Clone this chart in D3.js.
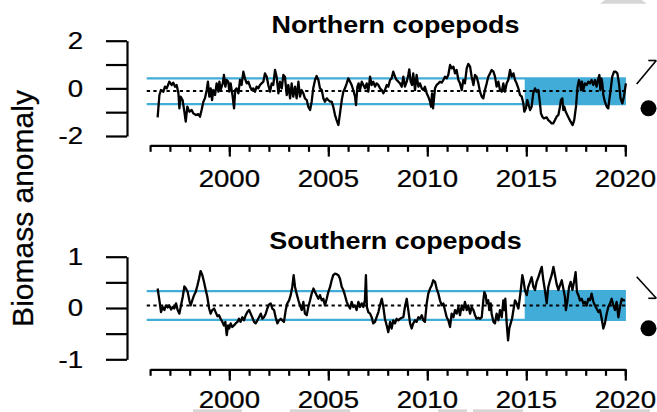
<!DOCTYPE html>
<html><head><meta charset="utf-8">
<script src="https://cdn.jsdelivr.net/npm/d3@7"></script>
<style>html,body{margin:0;padding:0;background:#fff;overflow:hidden}svg{display:block}</style>
</head><body><svg id="c" width="657" height="412"></svg>
<script>
// ---------------- data ----------------
const northYear = [1996.38,1996.47,1996.55,1996.67,1996.75,1996.84,1996.97,1997.09,1997.17,1997.26,1997.34,1997.43,1997.48,1997.54,1997.64,1997.73,1997.80,1997.88,1997.98,1998.10,1998.18,1998.32,1998.44,1998.52,1998.60,1998.69,1998.77,1998.86,1998.92,1998.99,1999.06,1999.13,1999.19,1999.28,1999.36,1999.45,1999.50,1999.56,1999.67,1999.73,1999.80,1999.87,1999.95,2000.00,2000.07,2000.17,2000.24,2000.30,2000.37,2000.46,2000.54,2000.62,2000.71,2000.79,2000.88,2000.96,2001.05,2001.13,2001.21,2001.30,2001.38,2001.47,2001.55,2001.63,2001.72,2001.80,2001.89,2001.97,2002.06,2002.14,2002.22,2002.31,2002.39,2002.48,2002.56,2002.65,2002.73,2002.81,2002.90,2002.98,2003.07,2003.15,2003.23,2003.32,2003.40,2003.49,2003.57,2003.65,2003.74,2003.82,2003.91,2003.99,2004.08,2004.16,2004.24,2004.33,2004.41,2004.50,2004.58,2004.67,2004.75,2004.83,2004.92,2005.00,2005.09,2005.17,2005.25,2005.34,2005.42,2005.51,2005.59,2005.68,2005.76,2005.84,2005.93,2006.01,2006.10,2006.18,2006.26,2006.35,2006.40,2006.47,2006.53,2006.60,2006.69,2006.77,2006.85,2006.94,2007.02,2007.11,2007.19,2007.27,2007.36,2007.44,2007.53,2007.61,2007.70,2007.78,2007.86,2007.95,2008.03,2008.12,2008.20,2008.28,2008.37,2008.45,2008.54,2008.62,2008.71,2008.79,2008.87,2008.96,2009.04,2009.09,2009.16,2009.23,2009.29,2009.38,2009.46,2009.55,2009.63,2009.72,2009.80,2009.88,2009.97,2010.05,2010.14,2010.19,2010.24,2010.29,2010.34,2010.39,2010.47,2010.56,2010.64,2010.73,2010.81,2010.89,2010.98,2011.06,2011.15,2011.23,2011.32,2011.40,2011.48,2011.57,2011.65,2011.74,2011.82,2011.90,2011.99,2012.07,2012.16,2012.24,2012.33,2012.41,2012.49,2012.58,2012.66,2012.75,2012.83,2012.91,2013.00,2013.08,2013.17,2013.25,2013.34,2013.42,2013.50,2013.59,2013.67,2013.76,2013.84,2013.92,2014.01,2014.09,2014.18,2014.26,2014.35,2014.43,2014.51,2014.60,2014.68,2014.77,2014.85,2014.90,2014.98,2015.05,2015.12,2015.19,2015.27,2015.35,2015.44,2015.52,2015.61,2015.69,2015.74,2015.81,2015.89,2016.03,2016.11,2016.20,2016.28,2016.36,2016.45,2016.53,2016.62,2016.70,2016.75,2016.82,2016.87,2016.92,2016.99,2017.07,2017.15,2017.24,2017.34,2017.42,2017.51,2017.59,2017.66,2017.71,2017.76,2017.81,2017.88,2017.96,2018.05,2018.13,2018.22,2018.30,2018.38,2018.47,2018.55,2018.64,2018.69,2018.74,2018.79,2018.84,2018.89,2018.97,2019.06,2019.14,2019.19,2019.26,2019.34,2019.43,2019.51,2019.60,2019.68,2019.76,2019.85,2019.93,2019.98,2020.03];
const northVal = [-1.22,-0.28,-0.07,-0.14,0.07,0.00,0.28,0.14,0.24,0.07,0.14,-0.21,-0.84,-0.35,-0.49,-0.98,-1.40,-0.77,-0.98,-0.91,-1.05,-1.12,-1.08,-1.19,-0.91,-0.56,-0.42,-0.07,0.28,-0.35,0.00,-0.49,-0.07,-0.28,0.21,-0.14,0.28,-0.07,0.21,0.56,0.07,0.35,0.28,-0.14,0.21,-0.35,-0.84,-0.07,0.00,-0.21,0.35,0.14,0.70,0.42,0.21,0.28,0.07,-0.07,0.00,-0.14,0.07,0.00,0.14,0.21,0.28,0.63,0.49,0.14,-0.14,0.21,0.14,0.77,0.49,-0.21,0.28,0.00,0.56,0.49,-0.28,0.14,-0.42,0.21,-0.35,0.07,-0.42,0.28,-0.35,-0.07,-0.21,-0.42,-0.49,-0.77,-0.91,-0.56,0.00,0.35,0.52,0.35,0.00,-0.07,-0.42,-0.56,-0.42,-0.49,-0.56,-0.56,-0.77,-1.12,-1.33,-1.54,-1.05,-0.49,-0.14,0.00,0.21,0.42,0.28,0.14,-0.07,-0.35,-0.70,0.07,0.21,-0.07,0.28,0.14,0.00,0.21,-0.14,0.49,0.14,0.28,0.07,0.21,0.14,0.00,-0.07,-0.21,-0.07,0.14,0.07,0.35,0.42,0.70,0.49,0.35,0.28,0.21,0.07,0.49,0.07,0.28,0.56,0.80,0.28,0.14,0.63,-0.07,0.56,0.07,0.21,0.00,-0.07,0.07,-0.21,-0.35,-0.56,-0.77,-0.21,-0.84,-0.42,0.00,0.14,0.21,0.28,0.24,0.35,0.49,0.42,0.56,0.98,0.84,0.91,0.63,0.77,0.35,0.21,-0.07,0.35,0.21,0.84,1.03,0.91,0.49,0.14,0.56,0.49,0.21,-0.14,-0.35,-0.42,-0.07,0.21,0.49,0.63,0.77,0.70,0.49,0.07,0.28,-0.07,-0.14,0.21,-0.14,0.21,0.35,0.77,0.49,0.63,0.35,0.21,0.00,-0.28,-0.35,-0.63,-0.98,-0.84,-0.49,-0.70,-0.91,-0.77,-0.21,0.00,-0.14,-0.07,-0.63,-1.05,-1.19,-1.26,-1.22,-1.33,-1.40,-1.47,-1.47,-1.33,-1.19,-1.12,-0.77,-0.49,-0.42,-0.91,-0.77,-0.98,-1.12,-1.26,-1.40,-1.54,-1.33,-0.77,0.07,0.35,0.21,-0.07,0.28,-0.07,0.21,0.14,0.28,0.21,0.35,0.14,0.35,0.07,0.42,0.56,-0.07,0.42,0.21,-0.28,-0.56,-0.77,-0.84,-0.49,-0.07,0.49,0.70,0.70,0.63,0.21,-0.42,-0.63,-0.35,-0.07,0.21];

const southYear = [1996.38,1996.47,1996.55,1996.64,1996.72,1996.80,1996.89,1996.97,1997.06,1997.14,1997.22,1997.31,1997.39,1997.48,1997.56,1997.65,1997.73,1997.81,1997.90,1997.98,1998.05,1998.13,1998.22,1998.30,1998.39,1998.47,1998.55,1998.64,1998.72,1998.81,1998.89,1998.98,1999.06,1999.14,1999.23,1999.31,1999.40,1999.48,1999.56,1999.65,1999.73,1999.80,1999.87,1999.94,2000.00,2000.07,2000.15,2000.24,2000.32,2000.41,2000.49,2000.57,2000.66,2000.74,2000.83,2000.91,2001.00,2001.08,2001.16,2001.25,2001.33,2001.42,2001.50,2001.59,2001.67,2001.75,2001.84,2001.92,2002.01,2002.09,2002.17,2002.26,2002.34,2002.43,2002.51,2002.60,2002.68,2002.76,2002.85,2002.93,2003.02,2003.10,2003.18,2003.25,2003.32,2003.40,2003.49,2003.57,2003.66,2003.74,2003.82,2003.91,2003.99,2004.08,2004.16,2004.25,2004.33,2004.41,2004.50,2004.58,2004.67,2004.75,2004.83,2004.92,2005.00,2005.09,2005.17,2005.25,2005.34,2005.42,2005.51,2005.59,2005.68,2005.76,2005.84,2005.93,2006.01,2006.10,2006.18,2006.26,2006.35,2006.43,2006.52,2006.60,2006.69,2006.77,2006.85,2006.90,2006.95,2007.02,2007.11,2007.19,2007.27,2007.36,2007.44,2007.53,2007.61,2007.70,2007.78,2007.86,2007.95,2008.03,2008.12,2008.20,2008.28,2008.37,2008.45,2008.54,2008.62,2008.71,2008.79,2008.87,2008.96,2009.04,2009.13,2009.21,2009.29,2009.38,2009.46,2009.55,2009.63,2009.72,2009.80,2009.88,2009.97,2010.05,2010.14,2010.22,2010.30,2010.39,2010.47,2010.56,2010.64,2010.73,2010.81,2010.89,2010.98,2011.06,2011.15,2011.23,2011.32,2011.40,2011.48,2011.57,2011.65,2011.74,2011.82,2011.90,2011.99,2012.07,2012.16,2012.24,2012.33,2012.41,2012.49,2012.58,2012.66,2012.75,2012.83,2012.88,2012.95,2013.00,2013.08,2013.13,2013.20,2013.25,2013.34,2013.42,2013.50,2013.59,2013.67,2013.76,2013.84,2013.89,2013.94,2014.01,2014.08,2014.14,2014.21,2014.28,2014.35,2014.43,2014.51,2014.60,2014.68,2014.73,2014.80,2014.87,2014.93,2015.02,2015.10,2015.19,2015.27,2015.36,2015.44,2015.52,2015.61,2015.69,2015.78,2015.86,2015.94,2016.03,2016.11,2016.20,2016.28,2016.37,2016.45,2016.53,2016.62,2016.70,2016.79,2016.87,2016.95,2017.00,2017.07,2017.16,2017.24,2017.33,2017.41,2017.49,2017.56,2017.63,2017.71,2017.80,2017.88,2017.96,2018.05,2018.13,2018.22,2018.30,2018.39,2018.47,2018.55,2018.64,2018.72,2018.81,2018.89,2018.97,2019.06,2019.14,2019.23,2019.31,2019.40,2019.48,2019.56,2019.65,2019.73,2019.82,2019.90,2019.99];
const southVal = [0.38,0.15,-0.08,0.02,-0.04,0.05,0.01,0.05,-0.03,0.02,-0.01,0.09,-0.04,-0.11,0.05,0.22,0.42,0.38,0.31,0.15,0.05,0.15,0.25,0.31,0.44,0.57,0.72,0.64,0.51,0.35,0.22,-0.01,-0.11,-0.04,-0.01,-0.08,-0.16,-0.14,-0.21,-0.27,-0.34,-0.27,-0.53,-0.34,-0.40,-0.30,-0.37,-0.34,-0.30,-0.27,-0.21,-0.27,-0.18,-0.24,-0.14,-0.08,-0.04,-0.11,-0.18,-0.27,-0.30,-0.24,-0.18,-0.11,-0.21,-0.18,-0.11,-0.01,0.07,0.09,-0.01,-0.04,-0.18,-0.30,-0.24,-0.21,-0.24,-0.27,-0.04,0.09,0.15,0.25,0.41,0.64,0.41,0.28,0.15,0.05,-0.04,0.12,-0.11,-0.14,0.02,0.15,0.28,0.38,0.31,0.25,0.18,0.25,0.15,0.18,0.05,0.18,0.31,0.41,0.54,0.64,0.67,0.66,0.64,0.57,0.41,0.35,0.25,0.12,0.05,-0.01,0.12,0.02,0.05,-0.04,0.12,0.02,0.09,0.02,0.15,0.64,0.02,-0.08,-0.11,-0.18,-0.30,-0.27,-0.18,-0.08,0.05,0.18,0.02,-0.21,-0.34,-0.47,-0.27,-0.40,-0.24,-0.30,-0.21,-0.24,-0.21,-0.19,-0.18,0.02,0.18,-0.04,-0.30,-0.40,-0.30,-0.24,-0.27,-0.18,-0.21,-0.14,-0.24,-0.27,0.09,0.28,0.38,0.44,0.54,0.51,0.38,0.28,0.15,0.05,0.09,-0.04,-0.18,-0.24,-0.37,-0.11,-0.18,-0.04,-0.11,0.02,-0.14,0.05,-0.04,0.12,-0.04,0.05,-0.11,0.02,-0.04,-0.14,-0.21,-0.19,-0.21,-0.18,0.15,0.31,0.25,0.09,0.15,-0.04,0.09,-0.11,-0.27,-0.30,-0.11,-0.24,-0.04,-0.18,0.15,-0.04,0.18,-0.30,-0.63,-0.40,-0.30,-0.21,-0.04,0.15,0.09,-0.01,0.22,0.38,0.64,0.51,0.35,0.25,0.41,0.51,0.60,0.41,0.35,0.51,0.60,0.70,0.80,0.54,0.35,0.09,0.41,0.54,0.64,0.80,0.64,0.47,0.35,0.44,0.54,0.38,0.22,-0.04,0.12,0.41,0.51,0.35,0.51,0.70,0.31,0.25,0.15,0.18,0.09,0.12,0.05,0.18,0.15,0.28,0.12,0.05,-0.01,-0.08,-0.04,-0.21,-0.40,-0.30,-0.11,0.02,0.09,0.18,0.05,-0.04,0.12,-0.18,0.02,0.18,0.15,0.15];

const panelTitles = ["Northern copepods", "Southern copepods"];
// [mean, mean + 1 sd, mean - 1 sd]
const northStats = [-0.11, 0.42, -0.66];
const southStats = [0.05, 0.33, -0.23];
const recentStart = 2014.92;
const refLineStart = 1995.83;
const refLineEnd = 2020.03;
const xAxisRange = [1996, 2020];
const xLabelYears = [2000, 2005, 2010, 2015, 2020];
const northYTicks = [-2, -1, 0, 1, 2];
const northYLabels = ["-2", "", "0", "", "2"];
const southYTicks = [-1, -0.5, 0, 0.5, 1];
const southYLabels = ["-1", "", "0", "", "1"];
const trendDirection = ["up", "down"];
const yAxisTitle = "Biomass anomaly";

// ---------------- drawing ----------------
const svg = d3.select("#c");
const FONT = "'Liberation Sans', Arial, Helvetica, sans-serif";
const BLUE = "#40acd7";

const x = d3.scaleLinear().domain(xAxisRange).range([150.1, 625.3]);

const panels = [
  { title: panelTitles[0], years: northYear, vals: northVal, stats: northStats,
    yTicks: northYTicks, yLabels: northYLabels, yDomain: [-2, 2], yRange: [136.0, 40.7],
    xAxisY: 145.3, titleY: 33, xLabelY: 186.5, trend: trendDirection[0], dotY: 108.3, arrowY: [84, 60.5] },
  { title: panelTitles[1], years: southYear, vals: southVal, stats: southStats,
    yTicks: southYTicks, yLabels: southYLabels, yDomain: [-1, 1], yRange: [359.3, 256.7],
    xAxisY: 369.3, titleY: 249.3, xLabelY: 407.5, trend: trendDirection[1], dotY: 328.3, arrowY: [276.7, 298.3] }
];

function stretchedText(g, tx, ty, str, size, weight, sx, anchor) {
  return g.append("text")
    .attr("transform", `translate(${tx},${ty}) scale(${sx},1)`)
    .attr("text-anchor", anchor)
    .attr("font-family", FONT)
    .attr("font-size", size)
    .attr("font-weight", weight)
    .attr("fill", "#000")
    .attr("stroke", weight === "bold" ? "none" : "#000")
    .attr("stroke-width", 0.25)
    .text(str);
}

// faint grey remnants of neighbouring figure at edges
svg.append("polygon").attr("points", "605,0 641.7,0 646.7,3.7 600,3.7").attr("fill", "#d6d6d6");
[[193, 242], [290, 350], [438, 467], [473, 523], [600, 650]].forEach(([a, b]) => {
  svg.append("rect").attr("x", a).attr("y", 409.3).attr("width", b - a).attr("height", 2.7).attr("fill", "#d6d6d6");
});

panels.forEach(p => {
  const y = d3.scaleLinear().domain(p.yDomain).range(p.yRange);
  const g = svg.append("g");

  // recent-period band
  g.append("rect")
    .attr("x", x(recentStart)).attr("width", x(refLineEnd) - x(recentStart))
    .attr("y", y(p.stats[1])).attr("height", y(p.stats[2]) - y(p.stats[1]))
    .attr("fill", BLUE);

  // sd lines
  [p.stats[1], p.stats[2]].forEach(v => {
    g.append("line").attr("x1", x(refLineStart)).attr("x2", x(refLineEnd))
      .attr("y1", y(v)).attr("y2", y(v))
      .attr("stroke", BLUE).attr("stroke-width", 2.2);
  });
  // mean line
  g.append("line").attr("x1", x(refLineStart)).attr("x2", x(refLineEnd))
    .attr("y1", y(p.stats[0])).attr("y2", y(p.stats[0]))
    .attr("stroke", "#000").attr("stroke-width", 1.9).attr("stroke-dasharray", "3.3,3.3");

  // series
  const pts = p.years.map((yr, i) => [yr, p.vals[i]]);
  g.append("path").datum(pts)
    .attr("d", d3.line().x(d => x(d[0])).y(d => y(d[1])))
    .attr("fill", "none").attr("stroke", "#000").attr("stroke-width", 2.3)
    .attr("stroke-linejoin", "round");

  // y axis
  const yAx = g.append("g").attr("transform", "translate(127,0)")
    .call(d3.axisLeft(y).tickValues(p.yTicks).tickSize(21).tickSizeOuter(0).tickFormat(""));
  yAx.selectAll("path,line").attr("stroke", "#000").attr("stroke-width", 2.2);
  p.yTicks.forEach((t, i) => {
    if (p.yLabels[i]) stretchedText(g, 83, y(t) + 8.3, p.yLabels[i], 23, "normal", 1.2, "end");
  });

  // x axis: yearly minor ticks, 5-yearly long ticks
  const minor = d3.range(xAxisRange[0], xAxisRange[1] + 1);
  const xAx = g.append("g").attr("transform", `translate(0,${p.xAxisY})`)
    .call(d3.axisBottom(x).tickValues(minor).tickSize(6.5).tickSizeOuter(0).tickFormat(""));
  const xAxMaj = g.append("g").attr("transform", `translate(0,${p.xAxisY})`)
    .call(d3.axisBottom(x).tickValues(xLabelYears).tickSize(11.3).tickSizeOuter(0).tickFormat(""));
  xAxMaj.select(".domain").remove();
  g.selectAll(".tick text").remove();
  [xAx, xAxMaj].forEach(a => a.selectAll("path,line").attr("stroke", "#000").attr("stroke-width", 2.2));
  xLabelYears.forEach(yr => stretchedText(g, x(yr), p.xLabelY, String(yr), 23, "normal", 1.2, "middle"));

  // title
  stretchedText(g, 395.5, p.titleY, p.title, 23, "bold", 1.17, "middle");

  // trend symbols (arrow + dot) in the right margin
  const ax0 = 636.7, ax1 = 656.3;
  g.append("line").attr("x1", ax0).attr("y1", p.arrowY[0]).attr("x2", ax1).attr("y2", p.arrowY[1])
    .attr("stroke", "#000").attr("stroke-width", 1.6);
  g.append("line").attr("x1", ax1).attr("y1", p.arrowY[1]).attr("x2", 648.3).attr("y2", p.arrowY[1])
    .attr("stroke", "#000").attr("stroke-width", 1.6);
  g.append("circle").attr("cx", 648.5).attr("cy", p.dotY).attr("r", 8).attr("fill", "#000");
});

// shared y-axis title
svg.append("text")
  .attr("transform", "translate(33.3,208.5) rotate(-90)")
  .attr("text-anchor", "middle")
  .attr("font-family", FONT).attr("font-size", 30).attr("fill", "#000")
  .attr("stroke", "#000").attr("stroke-width", 0.25)
  .text(yAxisTitle);
</script></body></html>
